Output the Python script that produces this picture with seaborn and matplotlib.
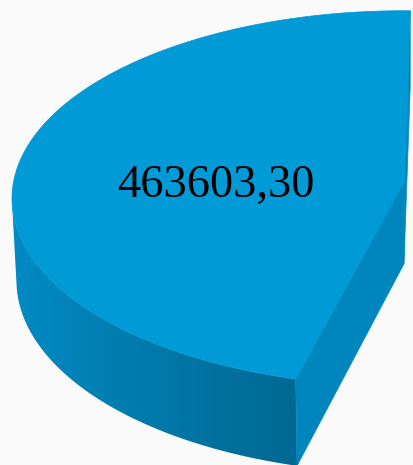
import numpy as np
import matplotlib
matplotlib.use("Agg")
import matplotlib.pyplot as plt
from matplotlib.patches import Polygon
from matplotlib.colors import LinearSegmentedColormap
import seaborn as sns

# ---- data -------------------------------------------------------------
slice_labels = ["463603,30"]
slice_values = [463603.30]
rest_values = [540000.0]      # estimated remainder of the pie (outside the crop)

# ---- style ------------------------------------------------------------
sns.set_theme(style="white")
plt.rcParams['font.family'] = ['Liberation Serif', 'DejaVu Serif']

top_color = "#009AD7"
front_face_color = "#0086BC"
back_face_color = "#0088C0"
side_cmap = LinearSegmentedColormap.from_list(
    "side", sns.blend_palette(["#008AC4", "#0079A9", "#006893"], n_colors=256))

# 3D projection parameters
elev = np.deg2rad(28.5)
D = 10.0
H = 0.241
ce, se = np.cos(elev), np.sin(elev)


def proj(x, y, z):
    v = y * se + z * ce
    w = y * ce - z * se
    f = D / (D + w)
    return x * f, v * f


def ring(th, z):
    return proj(np.cos(th), np.sin(th), np.full_like(th, z))


total = sum(slice_values) + sum(rest_values)
frac = slice_values[0] / total
th_a = np.deg2rad(89.0)
th_b = th_a + 2 * np.pi * frac

fig = plt.figure(figsize=(4.13, 4.65), dpi=100)
fig.patch.set_facecolor("#FAFAFA")
ax = fig.add_axes([0, 0, 1, 1])
ax.set_facecolor("#FAFAFA")

S = 390.5
ax.set_xlim(-404 / S, 9 / S)
ax.set_ylim(-(465 - 182) / S, 182 / S)
ax.axis("off")

# back radial face (thin sliver at 12 o'clock)
p0t = proj(0, 0, 0); p0b = proj(0, 0, -H)
pat = proj(np.cos(th_a), np.sin(th_a), 0); pab = proj(np.cos(th_a), np.sin(th_a), -H)
ax.fill([p0t[0], pat[0], pab[0], p0b[0]], [p0t[1], pat[1], pab[1], p0b[1]],
        color=back_face_color, lw=0.5, zorder=1)

# outer side (visible part only) with horizontal gradient
th_vis = max(th_a, np.pi + np.arcsin(1 / (D * ce)))
ths = np.linspace(th_vis, th_b, 300)
tx, ty = ring(ths, 0.0)
bx, by = ring(ths, -H)
side_xy = np.column_stack([np.r_[tx, bx[::-1]], np.r_[ty, by[::-1]]])
side_poly = Polygon(side_xy, closed=True, facecolor="none", edgecolor="none", zorder=2)
ax.add_patch(side_poly)
x0, x1 = side_xy[:, 0].min(), side_xy[:, 0].max()
y0, y1 = side_xy[:, 1].min(), side_xy[:, 1].max()
grad = np.linspace(0, 1, 512)[None, :]
im = ax.imshow(grad, cmap=side_cmap, extent=[x0, x1, y0, y1], aspect="auto",
               origin="lower", zorder=2, interpolation="bilinear")
im.set_clip_path(side_poly)

# front radial face
pbt = proj(np.cos(th_b), np.sin(th_b), 0); pbb = proj(np.cos(th_b), np.sin(th_b), -H)
ax.fill([p0t[0], pbt[0], pbb[0], p0b[0]], [p0t[1], pbt[1], pbb[1], p0b[1]],
        color=front_face_color, lw=0.5, zorder=3)

# top face
tht = np.linspace(th_a, th_b, 300)
ux, uy = ring(tht, 0.0)
ax.fill(np.r_[0, ux], np.r_[0, uy], color=top_color, lw=0.5, zorder=4)

ax.set_xlim(-404 / S, 9 / S)
ax.set_ylim(-(465 - 182) / S, 182 / S)

# label
mid = 0.5 * (th_a + th_b)
lx, ly = proj(0.49 * np.cos(mid), 0.49 * np.sin(mid), 0)
ax.annotate(slice_labels[0], (lx, ly), xytext=(0, -19.5), textcoords="offset points",
            ha="center", va="baseline", fontsize=33.5, color="black", zorder=5)

fig.savefig("out.png", dpi=100, facecolor=fig.get_facecolor())
